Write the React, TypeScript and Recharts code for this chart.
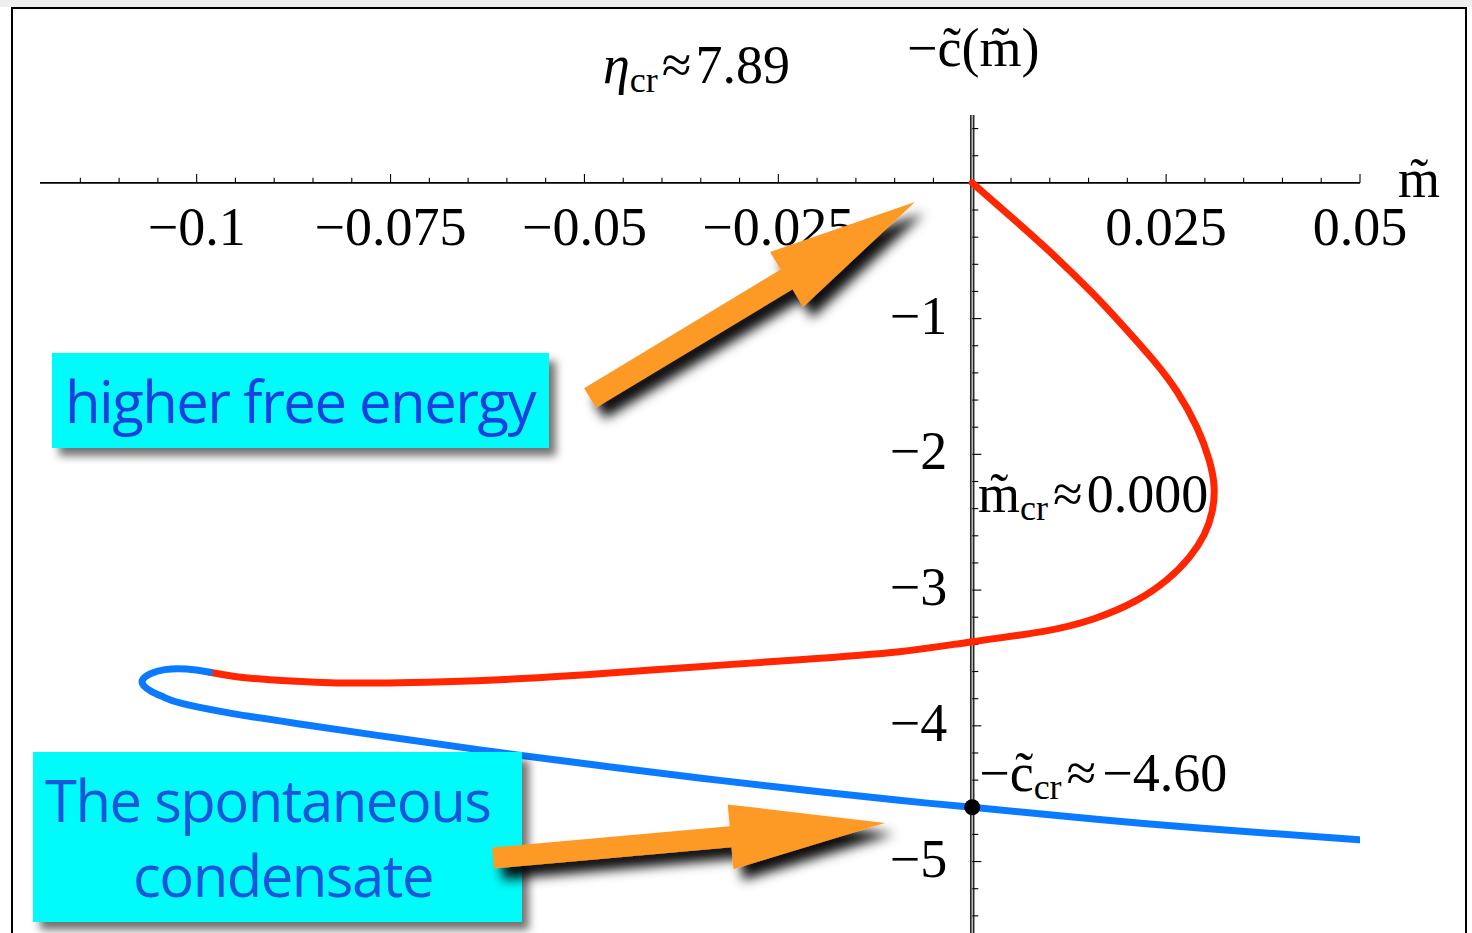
import { LineChart, Line, XAxis, YAxis, ReferenceLine, ReferenceDot } from "recharts";

const SERIF = '"Liberation Serif", "Times New Roman", serif';
const SANS = '"Open Sans", "Noto Sans", sans-serif';

const W = 1472;
const H = 960;
const VIEW_H = 933;

// critical values
const ETA_CR = 7.89;
const MCR = 0.0;
const CCR = -4.6;

// upper (unstable) branch: m̃ and −c̃(m̃)
const UPPER_M = [
  0, 0.00515, 0.01031, 0.01546, 0.01933, 0.0232, 0.02642, 0.02899, 0.03054, 0.03119, 0.03093,
  0.0299, 0.02796, 0.02513, 0.02113, 0.01572, 0.00902, 0, -0.00941, -0.02229, -0.03518,
  -0.04807, -0.06095, -0.07384, -0.08286, -0.09059, -0.09485, -0.09832,
];
const UPPER_C = [
  0, -0.258, -0.523, -0.81, -1.046, -1.296, -1.539, -1.804, -2.04, -2.239, -2.423, -2.592,
  -2.761, -2.923, -3.078, -3.211, -3.306, -3.38, -3.454, -3.513, -3.564, -3.616, -3.66,
  -3.682, -3.682, -3.66, -3.638, -3.605,
];

// lower branch: the spontaneous condensate
const LOWER_M = [
  -0.09832, -0.10129, -0.10412, -0.10593, -0.10696, -0.10683, -0.1058, -0.10412, -0.1018,
  -0.09536, -0.08673, -0.07384, -0.06095, -0.04807, -0.03518, -0.02229, -0.00941, 0, 0.01637,
  0.02925, 0.04987,
];
const LOWER_C = [
  -3.605, -3.582, -3.586, -3.616, -3.66, -3.704, -3.748, -3.792, -3.837, -3.91, -3.986, -4.094,
  -4.197, -4.293, -4.384, -4.469, -4.549, -4.6, -4.69, -4.753, -4.84,
];

const X_MAJOR = [-0.1, -0.075, -0.05, -0.025, 0.025, 0.05];
const X_LABELS = ["−0.1", "−0.075", "−0.05", "−0.025", "0.025", "0.05"];
const Y_MAJOR = [-1, -2, -3, -4, -5];
const Y_LABELS = ["−1", "−2", "−3", "−4", "−5"];

const upper = UPPER_M.map((m, i) => ({ m, c: UPPER_C[i] }));
const lower = LOWER_M.map((m, i) => ({ m, c: LOWER_C[i] }));

function steps(from: number, to: number, step: number) {
  const out: number[] = [];
  const n = Math.round((to - from) / step);
  for (let i = 0; i <= n; i++) out.push(+(from + i * step).toFixed(4));
  return out;
}
const isMult = (v: number, s: number) => Math.abs(v / s - Math.round(v / s)) < 1e-6;

const X_TICKS = steps(-0.115, 0.05, 0.005).filter((v) => v !== 0);
const Y_TICKS = steps(-5.4, 0.4, 0.2).filter((v) => v !== 0);

const fmt = (v: number, d: number) => v.toFixed(d).replace("-", "−");

// label content placed relative to a reference dot's centre
const at = (render: (x: number, y: number) => any) => (p: any) => {
  const vb = p.viewBox || {};
  return render(vb.x + (vb.width || 0) / 2, vb.y + (vb.height || 0) / 2);
};

function arrow(x1: number, y1: number, x2: number, y2: number, shaft: number, head: number, headLen: number) {
  const dx = x2 - x1;
  const dy = y2 - y1;
  const L = Math.hypot(dx, dy);
  const ux = dx / L;
  const uy = dy / L;
  const nx = -uy;
  const ny = ux;
  const bx = x2 - ux * headLen;
  const by = y2 - uy * headLen;
  return [
    [x1 + nx * shaft, y1 + ny * shaft],
    [bx + nx * shaft, by + ny * shaft],
    [bx + nx * head, by + ny * head],
    [x2, y2],
    [bx - nx * head, by - ny * head],
    [bx - nx * shaft, by - ny * shaft],
    [x1 - nx * shaft, y1 - ny * shaft],
  ]
    .map((p) => p.map((n) => n.toFixed(1)).join(","))
    .join(" ");
}

export default function App() {
  return (
    <div style={{ position: "absolute", left: 0, top: 0, width: W, height: VIEW_H, overflow: "hidden", background: "#fff" }}>
      <div style={{ position: "absolute", left: 0, top: 0, width: W, height: 7, background: "#efefef" }} />
      <div
        style={{
          position: "absolute",
          left: 11,
          top: 7,
          width: 1456,
          height: 980,
          border: "2.5px solid #000",
          boxSizing: "border-box",
        }}
      />
      <div style={{ position: "absolute", left: 0, top: 0 }}>
        <LineChart width={W} height={H} margin={{ top: 115, right: 112, bottom: 17, left: 40 }}>
          <XAxis type="number" dataKey="m" domain={[-0.1202, 0.05]} hide allowDataOverflow />
          <YAxis type="number" domain={[-5.6, 0.5]} hide allowDataOverflow />

          {/* axes through the origin */}
          <ReferenceLine y={0} stroke="#000" strokeWidth={1.6} />
          <ReferenceLine x={0} stroke="#2a2a2a" strokeWidth={4.5} />
          <ReferenceLine x={0} stroke="#c4c4c4" strokeWidth={1.4} />
          {X_TICKS.map((v) => (
            <ReferenceLine
              key={`xt${v}`}
              segment={[{ x: v, y: 0 }, { x: v, y: isMult(v, 0.025) ? 0.066 : 0.037 }]}
              stroke="#000"
              strokeWidth={1.1}
            />
          ))}
          {Y_TICKS.map((v) => (
            <ReferenceLine
              key={`yt${v}`}
              segment={[{ x: 0, y: v }, { x: isMult(v, 1) ? 0.00118 : 0.00078, y: v }]}
              stroke="#000"
              strokeWidth={1.1}
            />
          ))}

          <Line data={upper} dataKey="c" type="natural" stroke="#ff2600" strokeWidth={7}
            strokeLinecap="round" strokeLinejoin="round" dot={false} activeDot={false} isAnimationActive={false} />
          <Line data={lower} dataKey="c" type="natural" stroke="#0a7bff" strokeWidth={7}
            strokeLinecap="round" strokeLinejoin="round" dot={false} activeDot={false} isAnimationActive={false} />

          {X_MAJOR.map((v, i) => (
            <ReferenceDot key={`xl${v}`} x={v} y={0} r={1} fill="none" stroke="none"
              label={{
                content: at((x, y) => (
                  <text x={x} y={y + 62} textAnchor="middle" fontFamily={SERIF} fontSize={54} fill="#000">
                    {X_LABELS[i]}
                  </text>
                )),
              }}
            />
          ))}
          {Y_MAJOR.map((v, i) => (
            <ReferenceDot key={`yl${v}`} x={0} y={v} r={1} fill="none" stroke="none"
              label={{
                content: at((x, y) => (
                  <text x={x - 25} y={y + 15} textAnchor="end" fontFamily={SERIF} fontSize={54} fill="#000">
                    {Y_LABELS[i]}
                  </text>
                )),
              }}
            />
          ))}

          <ReferenceDot x={MCR} y={CCR} r={8} fill="#000" stroke="none"
            label={{
              content: at((x, y) => (
                <text x={x + 7} y={y - 16} fontFamily={SERIF} fontSize={54} fill="#000">
                  <tspan>−c̃</tspan>
                  <tspan fontSize={36} dy={8}>cr</tspan>
                  <tspan dy={-8} dx={5}>≈</tspan>
                  <tspan dx={6}>{fmt(CCR, 2)}</tspan>
                </text>
              )),
            }}
          />
        </LineChart>
      </div>

      <svg width={W} height={VIEW_H} style={{ position: "absolute", left: 0, top: 0, pointerEvents: "none" }}>
        <defs>
          <filter id="boxShadow" filterUnits="userSpaceOnUse" x="0" y="0" width={W} height={VIEW_H}>
            <feDropShadow dx="7" dy="8" stdDeviation="4" floodColor="#000" floodOpacity="0.55" />
          </filter>
          <filter id="arrowShadow" filterUnits="userSpaceOnUse" x="0" y="0" width={W} height={VIEW_H}>
            <feDropShadow dx="9" dy="11" stdDeviation="6" floodColor="#000" floodOpacity="0.95" />
          </filter>
        </defs>

        <text x={603} y={83} fontFamily={SERIF} fontSize={54} fill="#000">
          <tspan fontStyle="italic">η</tspan>
          <tspan fontSize={36} dy={9}>cr</tspan>
          <tspan dy={-9} dx={4}>≈</tspan>
          <tspan dx={4}>{ETA_CR.toFixed(2)}</tspan>
        </text>
        <text x={907} y={66} fontFamily={SERIF} fontSize={54} fill="#000">−c̃(m̃)</text>
        <text x={1398} y={197} fontFamily={SERIF} fontSize={54} fill="#000">m̃</text>
        <text x={978} y={512} fontFamily={SERIF} fontSize={54} fill="#000">
          <tspan>m̃</tspan>
          <tspan fontSize={36} dy={8}>cr</tspan>
          <tspan dy={-8} dx={5}>≈</tspan>
          <tspan dx={4}>{fmt(MCR, 3)}</tspan>
        </text>

        <rect x={52} y={353} width={497} height={95} fill="#00fcfa" filter="url(#boxShadow)" />
        <text x={65} y={423} fontFamily={SANS} fontSize={58} letterSpacing={-1.5} fill="#1b3fe0">
          higher free energy
        </text>
        <rect x={33} y={752} width={489} height={170} fill="#00fcfa" filter="url(#boxShadow)" />
        <text x={45} y={822} fontFamily={SANS} fontSize={58} letterSpacing={-1.5} fill="#1a55dc">
          The spontaneous
        </text>
        <text x={133} y={897} fontFamily={SANS} fontSize={58} letterSpacing={-1.5} fill="#1a55dc">
          condensate
        </text>

        <polygon points={arrow(590, 398, 915, 202, 11.5, 32, 150)} fill="#fd9a28" filter="url(#arrowShadow)" />
        <polygon points={arrow(493, 858, 885, 823, 10.5, 32.5, 155)} fill="#fd9a28" filter="url(#arrowShadow)" />
      </svg>
    </div>
  );
}
